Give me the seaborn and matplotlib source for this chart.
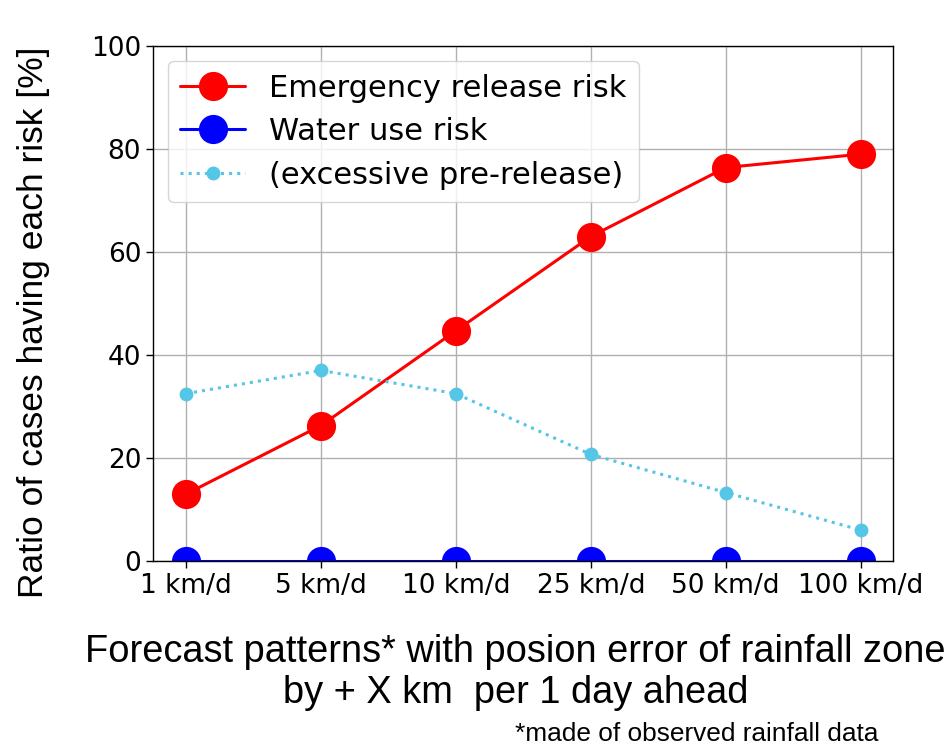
import matplotlib
matplotlib.use("Agg")
import matplotlib.pyplot as plt
import seaborn as sns
import pandas as pd

patterns = ["1 km/d", "5 km/d", "10 km/d", "25 km/d", "50 km/d", "100 km/d"]
emergency_risk = [13.0, 26.3, 44.7, 63.0, 76.4, 79.0]
water_use_risk = [0.0, 0.0, 0.0, 0.0, 0.0, 0.0]
excessive_pre = [32.5, 37.0, 32.5, 20.7, 13.3, 6.0]

df = pd.DataFrame({
    "x": list(range(len(patterns))),
    "emergency": emergency_risk,
    "water": water_use_risk,
    "excessive": excessive_pre,
})

sns.set_style("ticks")
plt.rcParams["font.family"] = ["DejaVu Sans"]
plt.rcParams["text.color"] = "black"
plt.rcParams["axes.labelcolor"] = "black"

fig = plt.figure(figsize=(9.53, 7.47), dpi=100)
ax = fig.add_axes([0.1605, 0.249, 0.7765, 0.6894])

sns.lineplot(data=df, x="x", y="emergency", ax=ax, color="red", marker="o",
             markersize=21, markeredgewidth=0, linewidth=2.2, label="Emergency release risk")
sns.lineplot(data=df, x="x", y="water", ax=ax, color="blue", marker="o",
             markersize=21, markeredgewidth=0, linewidth=2.2, label="Water use risk")
sns.lineplot(data=df, x="x", y="excessive", ax=ax, color="#55C6E6", marker="o",
             markersize=10, markeredgewidth=0, linewidth=2.2, linestyle=":",
             label="(excessive pre-release)")

ax.set_xlim(-0.245, 5.24)
ax.set_ylim(0, 100)
ax.set_xticks(range(len(patterns)))
ax.set_xticklabels(patterns)
ax.set_yticks([0, 20, 40, 60, 80, 100])
ax.tick_params(labelsize=19, length=5, width=1, colors="black")
ax.grid(True, color="#b0b0b0", linewidth=1)
for s in ax.spines.values():
    s.set_visible(True)
    s.set_color("black")
    s.set_linewidth(1)
ax.set_xlabel("")
ax.set_ylabel("Ratio of cases having each risk [%]", fontsize=25.5,
              family=["Liberation Sans"])
ax.yaxis.set_label_coords(-0.139, 0.464)

leg = ax.legend(loc="upper left", fontsize=22, frameon=True, borderaxespad=0.5,
                handlelength=2.1, labelspacing=0.48)
leg.get_frame().set_edgecolor("#cccccc")

fig.text(0.541, 0.1, "Forecast patterns* with posion error of rainfall zone\nby + X km  per 1 day ahead",
         ha="center", va="center", fontsize=27.4, family=["Liberation Sans"], linespacing=1.2)
fig.text(0.54, 0.018, "*made of observed rainfall data", ha="left", va="center",
         fontsize=18.9, family=["Liberation Sans"])

fig.savefig("out.png", dpi=100)
